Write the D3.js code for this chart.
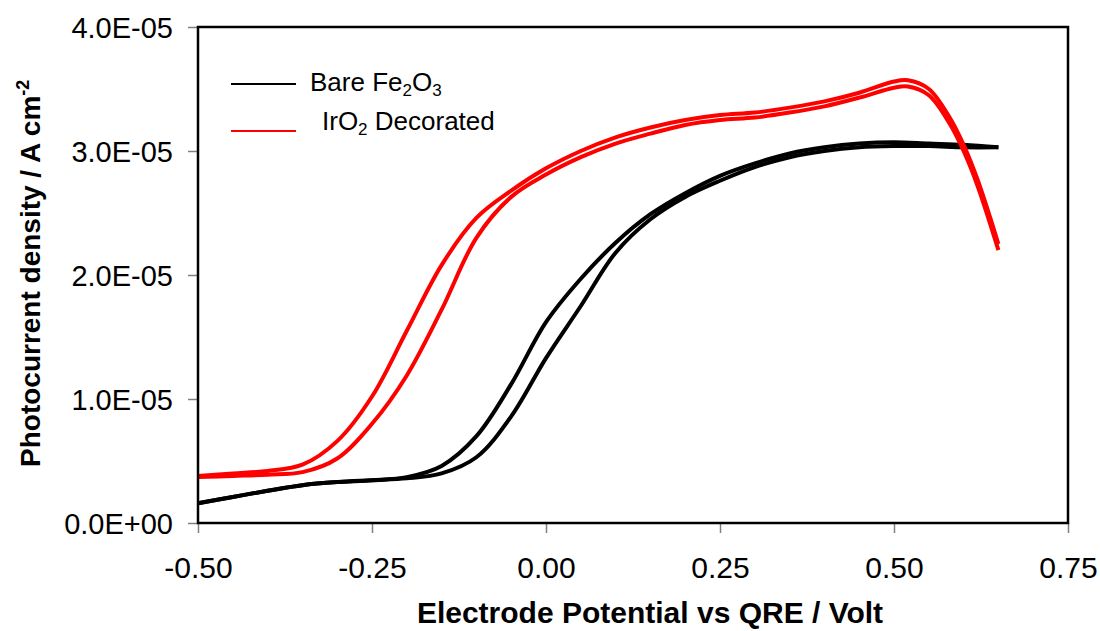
<!DOCTYPE html>
<html>
<head>
<meta charset="utf-8">
<script src="https://cdn.jsdelivr.net/npm/d3@7"></script>
<style>
  body { margin: 0; background: #fff; }
  text { font-family: "Liberation Sans", Arial, sans-serif; }
</style>
</head>
<body>
<div id="chart"></div>
<script>
var width = 1100;
var height = 631;

// photocurrent values in units of 1e-5 A cm^-2
var barePotential = [-0.50, -0.45, -0.40, -0.35, -0.30, -0.25, -0.20, -0.15, -0.10, -0.05, 0.00,
                     0.05, 0.10, 0.15, 0.20, 0.25, 0.30, 0.35, 0.40, 0.45, 0.50, 0.55, 0.60, 0.65];
var bareSweepLow = [0.16, 0.21, 0.26, 0.305, 0.33, 0.345, 0.36, 0.40, 0.53, 0.86, 1.33,
                    1.75, 2.18, 2.45, 2.63, 2.76, 2.87, 2.95, 3.00, 3.03, 3.04, 3.04, 3.03, 3.03];
var bareSweepHigh = [0.16, 0.21, 0.26, 0.305, 0.33, 0.345, 0.37, 0.46, 0.70, 1.12, 1.62,
                     1.97, 2.26, 2.49, 2.66, 2.80, 2.90, 2.98, 3.03, 3.06, 3.07, 3.06, 3.05, 3.03];

var irPotential = [-0.50, -0.45, -0.40, -0.35, -0.30, -0.25, -0.20, -0.15, -0.10, -0.05, 0.00,
                   0.05, 0.10, 0.15, 0.20, 0.25, 0.30, 0.35, 0.40, 0.45, 0.50, 0.52, 0.55,
                   0.58, 0.60, 0.62, 0.65];
var irSweepLow = [0.37, 0.38, 0.39, 0.41, 0.52, 0.80, 1.19, 1.72, 2.30, 2.63, 2.81,
                  2.95, 3.06, 3.14, 3.21, 3.25, 3.27, 3.31, 3.36, 3.43, 3.51, 3.52, 3.45,
                  3.22, 3.00, 2.72, 2.20];
var irSweepHigh = [0.38, 0.40, 0.42, 0.47, 0.66, 1.02, 1.55, 2.08, 2.46, 2.68, 2.86,
                   3.00, 3.11, 3.19, 3.25, 3.29, 3.31, 3.35, 3.40, 3.47, 3.56, 3.57, 3.50,
                   3.27, 3.05, 2.77, 2.25];

var xTicks = [-0.50, -0.25, 0.00, 0.25, 0.50, 0.75];
var xTickLabels = ["-0.50", "-0.25", "0.00", "0.25", "0.50", "0.75"];
var yTicks = [0, 1, 2, 3, 4];
var yTickLabels = ["0.0E+00", "1.0E-05", "2.0E-05", "3.0E-05", "4.0E-05"];

var plot = { left: 198, top: 27, right: 1068, bottom: 523 };

function createSVG() {
  return d3.select("#chart")
    .append("svg")
    .attr("width", width)
    .attr("height", height);
}

function drawAxes(svg, x, y) {
  // y ticks and labels
  var yAxis = d3.axisLeft(y)
    .tickValues(yTicks)
    .tickSize(10)
    .tickPadding(15)
    .tickFormat(function(d, i) { return yTickLabels[i]; });
  var gy = svg.append("g")
    .attr("transform", "translate(" + plot.left + ",0)")
    .call(yAxis);
  gy.select(".domain").remove();
  gy.selectAll(".tick line").attr("stroke", "#808080").attr("stroke-width", 1.5);
  gy.selectAll(".tick text")
    .attr("fill", "#000")
    .style("font-size", "29px")
    .attr("dy", "0.36em");

  var xAxis = d3.axisBottom(x)
    .tickValues(xTicks)
    .tickSize(10)
    .tickPadding(24)
    .tickFormat(function(d, i) { return xTickLabels[i]; });
  var gx = svg.append("g")
    .attr("transform", "translate(0," + plot.bottom + ")")
    .call(xAxis);
  gx.select(".domain").remove();
  gx.selectAll(".tick line").attr("stroke", "#808080").attr("stroke-width", 1.5);
  gx.selectAll(".tick text")
    .attr("fill", "#000")
    .style("font-size", "30px");

  // plot frame
  svg.append("rect")
    .attr("x", plot.left)
    .attr("y", plot.top)
    .attr("width", plot.right - plot.left)
    .attr("height", plot.bottom - plot.top)
    .attr("fill", "none")
    .attr("stroke", "#000")
    .attr("stroke-width", 2.5);

  svg.append("text")
    .attr("x", 650)
    .attr("y", 623)
    .attr("text-anchor", "middle")
    .style("font-size", "30px")
    .style("font-weight", "bold")
    .text("Electrode Potential vs QRE / Volt");

  var yt = svg.append("text")
    .attr("transform", "translate(40,467) rotate(-90)")
    .attr("text-anchor", "start")
    .style("font-size", "28px")
    .style("font-weight", "bold");
  yt.append("tspan").text("Photocurrent density / A cm");
  yt.append("tspan").attr("dy", -11).style("font-size", "18px").text("-2");
}

function drawCurves(svg, x, y) {
  var line = d3.line()
    .x(function(d) { return x(d[0]); })
    .y(function(d) { return y(d[1]); })
    .curve(d3.curveCatmullRom);

  var curves = [
    { v: barePotential, j: bareSweepLow, color: "#000" },
    { v: barePotential, j: bareSweepHigh, color: "#000" },
    { v: irPotential, j: irSweepLow, color: "#ff0000" },
    { v: irPotential, j: irSweepHigh, color: "#ff0000" }
  ];

  curves.forEach(function(c) {
    svg.append("path")
      .datum(d3.zip(c.v, c.j))
      .attr("d", line)
      .attr("fill", "none")
      .attr("stroke", c.color)
      .attr("stroke-width", 4)
      .attr("stroke-linejoin", "round");
  });
}

function drawLegend(svg) {
  var items = [
    { color: "#000", y: 84, base: 91, x: 310, parts: [["Bare Fe", 0], ["2", 1], ["O", 0], ["3", 1]] },
    { color: "#ff0000", y: 131, base: 130, x: 322, parts: [["IrO", 0], ["2", 1], [" Decorated", 0]] }
  ];
  items.forEach(function(it) {
    svg.append("line")
      .attr("x1", 231).attr("x2", 296)
      .attr("y1", it.y).attr("y2", it.y)
      .attr("stroke", it.color)
      .attr("stroke-width", 2);
    var t = svg.append("text")
      .attr("x", it.x)
      .attr("y", it.base)
      .style("font-size", "26px");
    var shifted = 0;
    it.parts.forEach(function(p) {
      var dy = p[1] ? 5 - shifted : -shifted;
      shifted = p[1] ? 5 : 0;
      t.append("tspan")
        .attr("dy", dy)
        .style("font-size", p[1] ? "17px" : "26px")
        .text(p[0]);
    });
  });
}

function createChart() {
  var svg = createSVG();
  var x = d3.scaleLinear().domain([-0.5, 0.75]).range([plot.left, plot.right]);
  var y = d3.scaleLinear().domain([0, 4]).range([plot.bottom, plot.top]);

  drawCurves(svg, x, y);
  drawAxes(svg, x, y);
  drawLegend(svg);
}

window.onload = function() {
  createChart();
};
</script>
</body>
</html>
